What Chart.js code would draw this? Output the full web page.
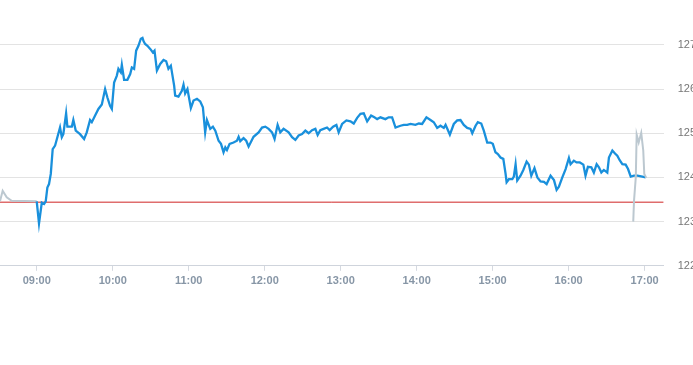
<!DOCTYPE html>
<html>
<head>
<meta charset="utf-8">
<script src="https://cdn.jsdelivr.net/npm/chart.js@4"></script>
<style>
  html, body { margin: 0; padding: 0; background: #fff; overflow: hidden; }
  #wrap { width: 710px; height: 365px; position: relative; }
</style>
</head>
<body>
<div id="wrap"><canvas id="quoteChart"></canvas></div>
<script>
// times are minutes after midnight
var prevClose = 123.44;

var preTimes  = [511, 513.1, 516.3, 520.2, 540];
var prePrices = [123.46, 123.70, 123.55, 123.47, 123.46];

var sessionTimes = [540, 541.8, 544.0, 545.8, 547.1, 548.4, 549.7, 551.1, 552.6, 554.5,
  556.3, 558.4, 559.8, 561.0, 563.2, 564.2, 567.7, 568.9, 570.8, 574.2,
  577.4, 579.5, 582.1, 583.5, 586.1, 588.7, 591.4, 594.0, 595.8, 597.9,
  599.3, 601.1, 603.2, 604.5, 606.4, 607.2, 609.0, 611.6, 613.8, 615.1,
  616.9, 618.5, 620.3, 622.2, 623.5, 624.4, 625.6, 627.4, 629.6, 631.7,
  633.0, 634.9, 637.5, 640.1, 642.2, 644.0, 645.9, 648.5, 649.3, 651.9,
  654.6, 655.9, 657.2, 659.0, 661.7, 663.8, 666.5, 669.1, 671.2, 673.0,
  674.4, 677.0, 679.1, 681.0, 683.6, 685.5, 687.5, 688.9, 690.2, 692.3,
  695.4, 698.1, 699.4, 700.7, 703.3, 705.4, 707.3, 711.2, 715.2, 717.9,
  720.5, 723.1, 725.8, 727.8, 730.2, 732.3, 734.9, 738.9, 741.6, 744.2,
  746.8, 749.5, 752.1, 754.7, 757.4, 760.0, 761.8, 763.9, 766.5, 769.2,
  771.3, 774.0, 776.6, 778.4, 781.1, 784.5, 787.7, 790.3, 793.0, 795.6,
  798.2, 800.9, 804.0, 806.6, 808.8, 811.4, 815.3, 817.9, 820.6, 823.3,
  827.2, 829.8, 832.5, 835.1, 839.0, 841.7, 844.3, 847.7, 850.9, 853.5,
  856.2, 858.8, 861.4, 862.8, 866.2, 869.3, 872.0, 874.6, 877.2, 879.9,
  882.5, 883.9, 886.5, 888.3, 891.0, 893.0, 895.7, 898.3, 900.1, 902.2,
  904.1, 906.2, 908.4, 910.2, 911.0, 912.8, 915.5, 916.7, 918.1, 919.4,
  922.0, 924.2, 926.8, 928.6, 930.5, 933.0, 935.3, 937.8, 940.5, 942.6,
  945.7, 948.4, 950.5, 952.3, 955.0, 957.6, 960.2, 961.5, 964.1, 966.2,
  968.8, 971.6, 973.3, 975.2, 977.9, 979.9, 982.1, 983.9, 985.8, 987.8,
  990.5, 991.8, 994.5, 996.6, 998.4, 1000.3, 1002.4, 1005.0, 1006.9, 1009.0,
  1011.6, 1014.3, 1018.2, 1020.8];
var sessionPrices = [123.46, 122.96, 123.43, 123.40, 123.46, 123.77, 123.85, 124.08, 124.64, 124.72,
  124.91, 125.13, 124.91, 124.98, 125.45, 125.15, 125.15, 125.30, 125.06, 124.98,
  124.87, 125.02, 125.30, 125.25, 125.40, 125.55, 125.65, 126.00, 125.81, 125.62,
  125.55, 126.15, 126.30, 126.46, 126.38, 126.55, 126.21, 126.21, 126.34, 126.49,
  126.46, 126.87, 126.98, 127.14, 127.16, 127.08, 127.02, 126.98, 126.91, 126.83,
  126.87, 126.42, 126.57, 126.66, 126.63, 126.46, 126.53, 126.08, 125.85, 125.83,
  125.96, 126.10, 125.90, 126.00, 125.57, 125.74, 125.78, 125.72, 125.59, 125.02,
  125.30, 125.10, 125.15, 125.06, 124.83, 124.76, 124.57, 124.68, 124.62, 124.76,
  124.79, 124.83, 124.92, 124.82, 124.89, 124.83, 124.70, 124.92, 125.02, 125.13,
  125.15, 125.10, 125.02, 124.87, 125.19, 125.02, 125.10, 125.02, 124.91, 124.85,
  124.95, 124.98, 125.06, 125.00, 125.07, 125.10, 124.96, 125.07, 125.10, 125.13,
  125.07, 125.15, 125.19, 125.02, 125.21, 125.29, 125.27, 125.22, 125.35, 125.44,
  125.45, 125.27, 125.40, 125.36, 125.32, 125.36, 125.32, 125.36, 125.36, 125.13,
  125.17, 125.19, 125.19, 125.21, 125.19, 125.22, 125.21, 125.36, 125.30, 125.25,
  125.12, 125.17, 125.12, 125.19, 124.97, 125.21, 125.29, 125.30, 125.19, 125.12,
  125.10, 125.00, 125.17, 125.25, 125.22, 125.06, 124.79, 124.79, 124.76, 124.57,
  124.53, 124.45, 124.42, 124.08, 123.89, 123.96, 123.96, 124.02, 124.30, 123.93,
  124.04, 124.17, 124.36, 124.29, 124.04, 124.21, 124.00, 123.91, 123.90, 123.85,
  124.04, 123.94, 123.72, 123.79, 124.00, 124.19, 124.44, 124.30, 124.38, 124.34,
  124.34, 124.29, 124.04, 124.24, 124.23, 124.11, 124.30, 124.23, 124.11, 124.17,
  124.11, 124.45, 124.61, 124.54, 124.49, 124.39, 124.30, 124.29, 124.19, 124.02,
  124.04, 124.04, 124.02, 124.00];

var postTimes  = [1011.0, 1011.6, 1013.0, 1013.7, 1015.3, 1017.3, 1018.9, 1019.7, 1021.3];
var postPrices = [123.00, 123.47, 124.00, 124.97, 124.79, 125.01, 124.61, 124.08, 123.99];

var axisMin = 511, axisMax = 1035;
var hourTicks = [540, 600, 660, 720, 780, 840, 900, 960, 1020];
var priceTicks = [122, 123, 124, 125, 126, 127];
var priceMin = 122, priceMax = 127.55;

function toPoints(xs, ys) {
  var pts = [];
  for (var i = 0; i < xs.length; i++) {
    pts.push({x: xs[i], y: ys[i]});
  }
  return pts;
}

function hhmm(v) {
  var h = Math.floor(v / 60), m = Math.round(v % 60);
  return (h < 10 ? '0' : '') + h + ':' + (m < 10 ? '0' : '') + m;
}

var ctx = document.getElementById('quoteChart');
var quoteChart = new Chart(ctx, {
  type: 'line',
  data: {
    datasets: [{
      data: toPoints(postTimes, postPrices),
      borderColor: '#bcc8d0',
      borderWidth: 2,
      pointRadius: 0,
      tension: 0
    }, {
      data: toPoints(sessionTimes, sessionPrices),
      borderColor: '#1990dc',
      borderWidth: 2.3,
      pointRadius: 0,
      tension: 0
    }, {
      data: toPoints(preTimes, prePrices),
      borderColor: '#bcc8d0',
      borderWidth: 2,
      pointRadius: 0,
      tension: 0
    }, {
      data: [{x: axisMin, y: prevClose}, {x: axisMax, y: prevClose}],
      borderColor: '#cf2424',
      borderWidth: 1,
      pointRadius: 0
    }]
  },
  options: {
    responsive: true,
    maintainAspectRatio: false,
    animation: false,
    layout: { padding: { top: 0, bottom: 73, left: 0, right: 0 } },
    plugins: { legend: { display: false }, tooltip: { enabled: false } },
    scales: {
      x: {
        type: 'linear',
        min: axisMin,
        max: axisMax,
        afterBuildTicks: function(axis) {
          axis.ticks = hourTicks.map(function(v) { return {value: v}; });
        },
        grid: { drawOnChartArea: false, drawTicks: true, tickLength: 5, color: '#d5d9e0' },
        border: { display: true, color: '#cfd4dc' },
        ticks: {
          callback: function(v) { return hhmm(v); },
          color: '#8796a6',
          font: { family: 'Liberation Sans, Arial, sans-serif', size: 11, weight: 'bold' },
          maxRotation: 0,
          padding: 4
        }
      },
      y: {
        position: 'right',
        min: priceMin,
        max: priceMax,
        afterBuildTicks: function(axis) {
          axis.ticks = priceTicks.map(function(v) { return {value: v}; });
        },
        grid: { color: '#e3e3e3', drawTicks: false },
        border: { display: false },
        ticks: {
          color: '#777777',
          font: { family: 'Liberation Sans, Arial, sans-serif', size: 11 },
          padding: 14
        }
      }
    }
  }
});
</script>
</body>
</html>
